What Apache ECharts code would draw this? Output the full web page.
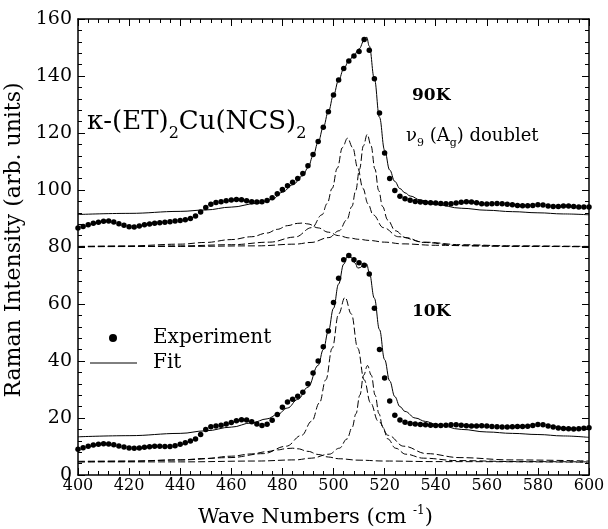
<!DOCTYPE html>
<html lang="en">

<head>
    <meta charset="UTF-8">
    <title>Raman v9 doublet</title>
    <script src="https://cdn.jsdelivr.net/npm/echarts@6.0.0/dist/echarts.min.js"></script>
    <style>
        body { margin: 0; background: #fff; }
    </style>
</head>

<body>
    <div id="main" style="width: 608px;height:529px;"></div>
    <script type="text/javascript">
        // wave numbers of the measured points (every 2 cm-1)
        const waveExp = [
            400, 402, 404, 406, 408, 410, 412, 414, 416, 418,
            420, 422, 424, 426, 428, 430, 432, 434, 436, 438,
            440, 442, 444, 446, 448, 450, 452, 454, 456, 458,
            460, 462, 464, 466, 468, 470, 472, 474, 476, 478,
            480, 482, 484, 486, 488, 490, 492, 494, 496, 498,
            500, 502, 504, 506, 508, 510, 512, 514, 516, 518,
            520, 522, 524, 526, 528, 530, 532, 534, 536, 538,
            540, 542, 544, 546, 548, 550, 552, 554, 556, 558,
            560, 562, 564, 566, 568, 570, 572, 574, 576, 578,
            580, 582, 584, 586, 588, 590, 592, 594, 596, 598,
            600
        ];
        const exp90 = [
            86.7, 87.2, 87.8, 88.3, 88.7, 89.0, 89.1, 88.8, 88.2, 87.6,
            87.1, 87.0, 87.4, 87.8, 88.1, 88.3, 88.5, 88.7, 88.9, 89.1,
            89.3, 89.6, 90.0, 90.9, 92.3, 93.9, 95.0, 95.6, 95.9, 96.2,
            96.5, 96.7, 96.6, 96.2, 95.9, 95.8, 95.9, 96.3, 97.3, 98.7,
            100.2, 101.5, 102.7, 104.0, 105.8, 108.5, 112.5, 117.0, 122.0, 127.5,
            133.3, 138.6, 142.6, 145.3, 147.0, 148.6, 152.8, 149.0, 139.0, 127.0,
            113.0, 104.0, 99.8, 97.8, 96.9, 96.4, 96.0, 95.8, 95.6, 95.5,
            95.4, 95.3, 95.2, 95.2, 95.4, 95.7, 95.9, 95.8, 95.5, 95.2,
            95.1, 95.2, 95.3, 95.2, 95.0, 94.8, 94.6, 94.5, 94.5, 94.6,
            94.8, 94.7, 94.4, 94.2, 94.2, 94.4, 94.4, 94.2, 94.0, 94.0,
            94.0
        ];
        const exp10 = [
            9.0, 9.6, 10.1, 10.5, 10.8, 11.0, 10.9, 10.6, 10.2, 9.8,
            9.5, 9.4, 9.5, 9.7, 9.9, 10.1, 10.1, 10.0, 10.0, 10.3,
            10.8, 11.3, 11.9, 12.6, 14.2, 16.0, 16.9, 17.2, 17.5, 17.9,
            18.4, 19.0, 19.4, 19.3, 18.7, 17.9, 17.4, 17.8, 19.2, 21.2,
            23.8, 25.6, 26.6, 27.6, 29.0, 32.0, 35.8, 40.0, 45.0, 50.5,
            60.5, 69.0, 75.5, 77.0, 75.5, 74.5, 73.6, 70.5, 58.5, 44.0,
            34.0, 26.0, 21.0, 19.3, 18.5, 18.1, 17.9, 17.7, 17.6, 17.5,
            17.4, 17.4, 17.5, 17.6, 17.6, 17.5, 17.3, 17.2, 17.2, 17.3,
            17.2, 17.0, 16.9, 16.8, 16.8, 16.9, 17.0, 17.0, 17.1, 17.4,
            17.7, 17.6, 17.2, 16.8, 16.5, 16.3, 16.2, 16.1, 16.2, 16.4,
            16.6
        ];

        // fits
        const waveFit90 = [400, 420, 440, 450, 460, 470, 476, 480, 484, 488, 490, 492, 494, 496, 498,
            500, 502, 504, 506, 508, 510, 512, 513, 514, 516, 518, 520, 522, 524, 526, 528, 530,
            534, 540, 550, 560, 570, 580, 590, 600];
        const fit90 = [91.4, 91.8, 92.5, 93.0, 94.0, 95.3, 96.7, 99.2, 101.8, 105.0, 107.8, 112.0, 116.8, 122.0, 127.5,
            133.3, 138.5, 142.5, 145.3, 147.3, 149.5, 152.5, 153.6, 150.5, 139.0, 125.5, 114.0, 107.0, 103.0, 100.5, 99.0, 97.9,
            96.5, 94.9, 93.6, 92.9, 92.4, 92.0, 91.6, 91.3];
        const waveFit10 = [400, 420, 440, 450, 460, 468, 474, 478, 482, 486, 490, 494, 496, 498, 500, 502, 504,
            505.5, 507, 508.5, 509.5, 510.5, 512, 513, 514, 516, 518, 520, 522, 524, 526, 528, 532, 536, 540,
            550, 560, 570, 580, 590, 600];
        const fit10 = [13.4, 13.8, 14.6, 15.5, 16.8, 18.3, 19.7, 21.2, 23.5, 26.5, 30.8, 38.5, 44.0, 50.5, 58.5, 67.0, 74.0,
            76.8, 76.3, 74.3, 72.6, 72.8, 74.2, 74.0, 71.0, 62.0, 51.0, 40.5, 33.0, 27.5, 24.0, 22.3, 20.0, 18.8, 17.8,
            16.0, 15.1, 14.6, 14.2, 13.7, 13.2];

        // fitted components, 90K (base 80)
        const waveBroad90 = [400, 420, 440, 450, 460, 468, 474, 478, 482, 486, 488, 490, 494, 498, 502, 506, 510, 514, 520, 527, 540, 560, 600];
        const broad90 = [80.2, 80.4, 81.0, 81.6, 82.6, 83.6, 84.9, 86.2, 87.5, 88.3, 88.4, 88.1, 86.7, 85.2, 84.0, 83.2, 82.7, 82.3, 81.7, 81.1, 80.6, 80.3, 80.1];
        const waveMain90 = [400, 420, 440, 460, 475, 485, 491.5, 495.5, 497.5, 499.5, 501.5, 503.5, 505.5, 507.5, 509.5, 511.5, 513.5, 515.5, 519.5, 525.5, 535.5, 550, 570, 600];
        const main90 = [80.1, 80.2, 80.4, 80.8, 81.7, 83.5, 86.8, 91.3, 95.2, 100.6, 107.7, 114.9, 118.2, 114.9, 107.7, 100.6, 95.2, 91.3, 86.8, 83.6, 81.7, 80.8, 80.4, 80.2];
        const waveNarrow90 = [400, 440, 470, 485, 491.2, 498.2, 502.2, 505.2, 507.2, 508.7, 510.2, 511.7, 513.2, 514.7, 516.2, 517.7, 519.2, 521.2, 524.2, 528.2, 535.2, 548.2, 573, 600];
        const narrow90 = [80.1, 80.2, 80.4, 81.0, 81.6, 83.3, 85.7, 89.5, 94.2, 99.8, 107.4, 115.5, 119.5, 115.5, 107.4, 99.8, 94.2, 89.5, 85.7, 83.3, 81.6, 80.6, 80.2, 80.1];

        // fitted components, 10K (base ~4.5)
        const waveBroad10 = [400, 420, 440, 450, 460, 468, 474, 478, 482, 484, 486, 490, 494, 498, 502, 510, 520, 540, 600];
        const broad10 = [4.6, 4.8, 5.3, 5.8, 6.6, 7.4, 8.2, 8.8, 9.3, 9.4, 9.2, 8.3, 7.2, 6.3, 5.7, 5.2, 4.9, 4.7, 4.5];
        const waveMain10 = [400, 420, 440, 459.5, 472.5, 481.5, 487.5, 491.5, 494.5, 497, 499.5, 502, 504.5, 507, 509.5, 512, 514.5, 517.5, 521.5, 527.5, 536.5, 549.5, 569.5, 600];
        const main10 = [4.8, 4.9, 5.3, 6.1, 7.5, 10.1, 13.9, 18.9, 25.3, 33.4, 44.5, 56.5, 62.3, 56.5, 44.5, 33.4, 25.3, 18.9, 13.9, 10.1, 7.5, 6.1, 5.3, 4.9];
        const waveNarrow10 = [400, 440, 470, 485, 491.3, 498.3, 502.3, 505.3, 507.3, 508.8, 510.3, 511.8, 513.3, 514.8, 516.3, 517.8, 519.3, 521.3, 524.3, 528.3, 535.3, 548.3, 573, 600];
        const narrow10 = [4.6, 4.6, 4.9, 5.3, 5.9, 7.3, 9.4, 12.65, 16.7, 21.5, 28.0, 35.0, 38.4, 35.0, 28.0, 21.5, 16.7, 12.65, 9.4, 7.3, 5.9, 5.05, 4.7, 4.6];

        const serif = "'DejaVu Serif', serif";

        function pairs(xs, ys) {
            return xs.map((x, i) => [x, ys[i]]);
        }

        function dots(name, ys) {
            return {
                name: name, type: 'scatter', data: pairs(waveExp, ys),
                symbol: 'circle', symbolSize: 5.5, itemStyle: { color: '#000', opacity: 1 }, z: 5, silent: true
            };
        }

        function curve(name, xs, ys, dashed) {
            return {
                name: name, type: 'line', data: pairs(xs, ys),
                smooth: 0.4, smoothMonotone: 'x', showSymbol: false, silent: true,
                lineStyle: { color: '#000', width: 1, type: dashed ? [7, 3] : 'solid' },
                z: dashed ? 2 : 4
            };
        }

        const axisLine = { show: true, onZero: false, lineStyle: { color: '#000', width: 1.5 } };
        const axisTick = { show: true, inside: true, length: 7, lineStyle: { color: '#000', width: 1 } };
        const minorTick = { show: true, splitNumber: 5, length: 4, lineStyle: { color: '#000', width: 1 } };

        let options = {
            animation: false,
            backgroundColor: '#fff',
            grid: { left: 78, right: 19, top: 19, bottom: 54, containLabel: false, outerBoundsMode: 'none' },
            xAxis: [{
                type: 'value', min: 400, max: 600, interval: 20, position: 'bottom',
                axisLine: axisLine, axisTick: axisTick, minorTick: minorTick,
                splitLine: { show: false },
                axisLabel: { color: '#000', fontFamily: serif, fontSize: 16, margin: 3 },
                name: 'Wave Numbers (cm {sup|-1})', nameLocation: 'middle', nameGap: 30,
                nameTextStyle: {
                    color: '#000', fontFamily: serif, fontSize: 21, padding: [0, 36, 0, 0],
                    rich: { sup: { fontFamily: serif, fontSize: 12, verticalAlign: 'top', lineHeight: 26 } }
                }
            }, {
                type: 'value', min: 400, max: 600, interval: 20, position: 'top',
                axisLine: axisLine, axisTick: axisTick, minorTick: minorTick,
                splitLine: { show: false }, axisLabel: { show: false }
            }],
            yAxis: [{
                type: 'value', min: 0, max: 160, interval: 20, position: 'left',
                axisLine: axisLine, axisTick: axisTick, minorTick: minorTick,
                splitLine: { show: false },
                axisLabel: { color: '#000', fontFamily: serif, fontSize: 19, margin: 6 },
                name: 'Raman Intensity (arb. units)', nameLocation: 'middle', nameGap: 42,
                nameTextStyle: { color: '#000', fontFamily: serif, fontSize: 22, padding: [0, 0, 0, 14] }
            }, {
                type: 'value', min: 0, max: 160, interval: 20, position: 'right',
                axisLine: axisLine, axisTick: axisTick, minorTick: minorTick,
                splitLine: { show: false }, axisLabel: { show: false }
            }],
            series: [
                curve('broad90', waveBroad90, broad90, true),
                curve('main90', waveMain90, main90, true),
                curve('narrow90', waveNarrow90, narrow90, true),
                curve('broad10', waveBroad10, broad10, true),
                curve('main10', waveMain10, main10, true),
                curve('narrow10', waveNarrow10, narrow10, true),
                curve('Fit 90K', waveFit90, fit90, false),
                curve('Fit 10K', waveFit10, fit10, false),
                dots('Experiment 90K', exp90),
                dots('Experiment 10K', exp10)
            ],
            graphic: [
                {
                    type: 'text', x: 87, y: 102, silent: true,
                    style: {
                        text: '{n|κ-(ET)}{s|2}{n|Cu(NCS)}{s|2}', fill: '#000', verticalAlign: 'top',
                        rich: {
                            n: { fontFamily: serif, fontSize: 26, lineHeight: 40, verticalAlign: 'middle' },
                            s: { fontFamily: serif, fontSize: 16, lineHeight: 40, verticalAlign: 'bottom' }
                        }
                    }
                },
                {
                    type: 'text', x: 412, y: 96, silent: true,
                    style: { text: '90K', fill: '#000', font: "bold 17px 'DejaVu Serif', serif", verticalAlign: 'middle' }
                },
                {
                    type: 'text', x: 406, y: 123, silent: true,
                    style: {
                        text: '{n|ν}{s|9}{n| (A}{s|g}{n|) doublet}', fill: '#000', verticalAlign: 'top',
                        rich: {
                            n: { fontFamily: serif, fontSize: 18, lineHeight: 26, verticalAlign: 'middle' },
                            s: { fontFamily: serif, fontSize: 11, lineHeight: 26, verticalAlign: 'bottom' }
                        }
                    }
                },
                {
                    type: 'text', x: 412, y: 312, silent: true,
                    style: { text: '10K', fill: '#000', font: "bold 17px 'DejaVu Serif', serif", verticalAlign: 'middle' }
                },
                // legend
                { type: 'circle', shape: { cx: 113, cy: 338, r: 4 }, style: { fill: '#000' }, silent: true },
                {
                    type: 'text', x: 153, y: 338, silent: true,
                    style: { text: 'Experiment', fill: '#000', font: "20px 'DejaVu Serif', serif", verticalAlign: 'middle' }
                },
                { type: 'line', shape: { x1: 90, y1: 363, x2: 137, y2: 363 }, style: { stroke: '#000', lineWidth: 1 }, silent: true },
                {
                    type: 'text', x: 153, y: 363, silent: true,
                    style: { text: 'Fit', fill: '#000', font: "20px 'DejaVu Serif', serif", verticalAlign: 'middle' }
                }
            ]
        };

        let myChart = echarts.init(document.getElementById('main'));
        myChart.setOption(options);
    </script>
</body>

</html>
